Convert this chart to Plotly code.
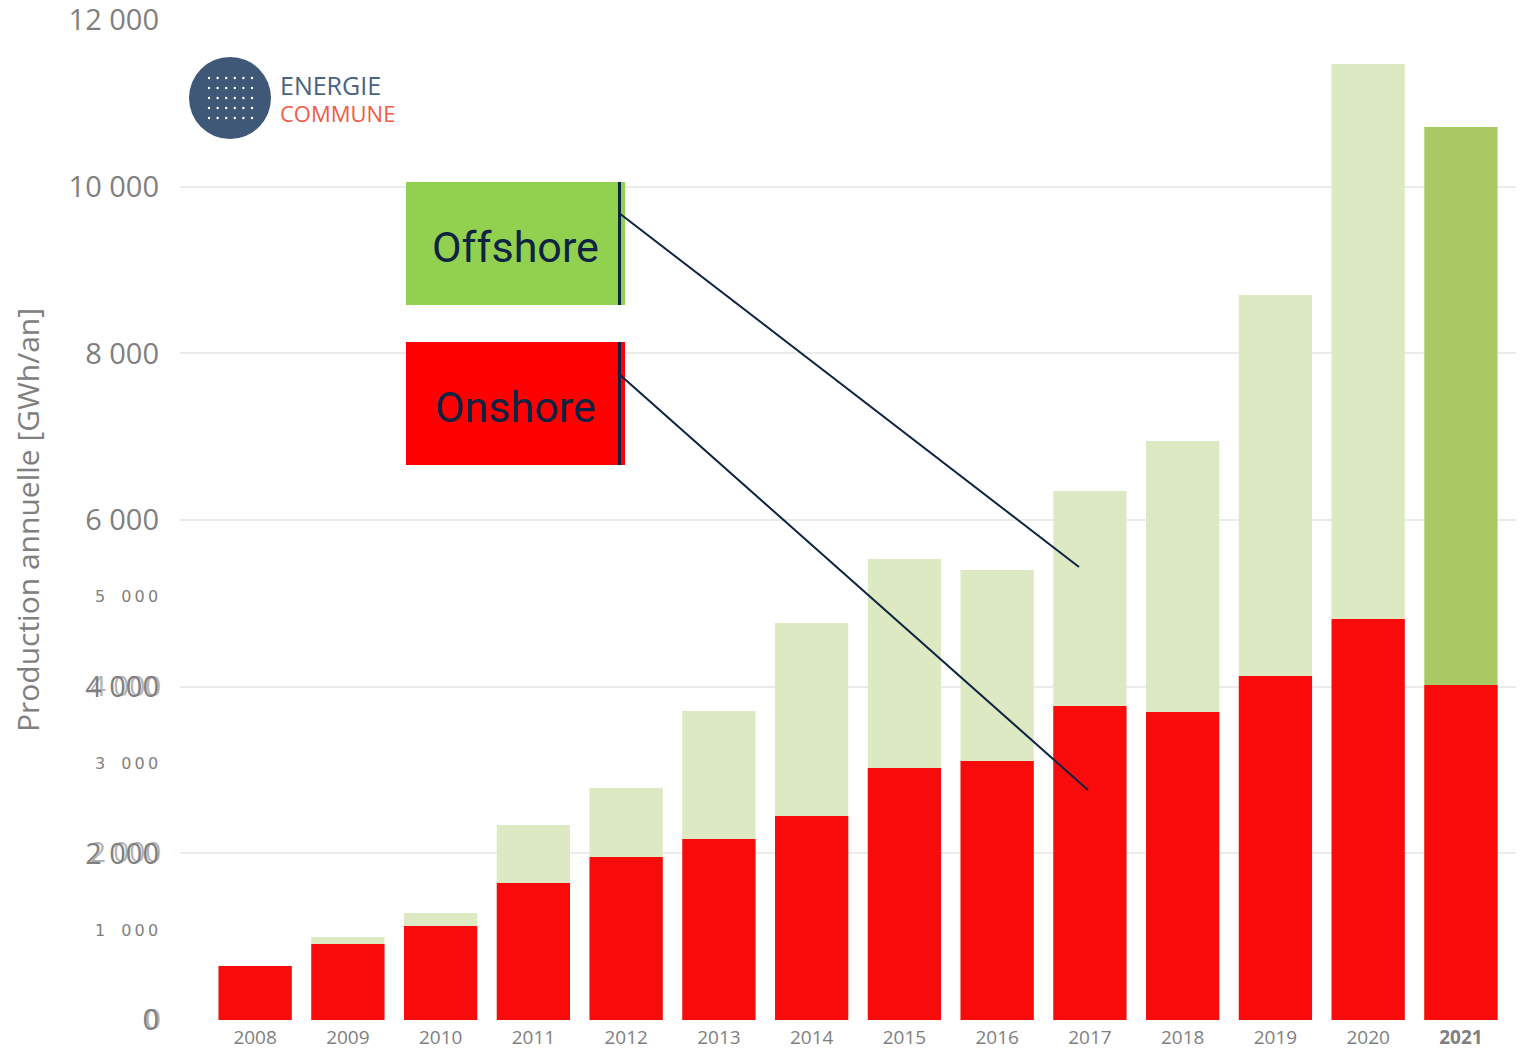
import plotly.graph_objects as go

# ---- data ----
years = ["2008", "2009", "2010", "2011", "2012", "2013", "2014",
         "2015", "2016", "2017", "2018", "2019", "2020", "2021"]
onshore = [648, 912, 1128, 1644, 1956, 2172, 2448, 3024, 3108, 3768, 3696, 4128, 4812, 4020]
offshore = [0, 84, 156, 696, 828, 1536, 2316, 2508, 2292, 2580, 3252, 4572, 6660, 6696]
y_ticks = [0, 2000, 4000, 6000, 8000, 10000, 12000]
y_tick_text = ["0", "2 000", "4 000", "6 000", "8 000", "10 000", "12 000"]
small_ticks = [1000, 3000, 5000]
small_tick_text = ["1 000", "3 000", "5 000"]

x_idx = list(range(len(years)))
totals = [a + b for a, b in zip(onshore, offshore)]
total_colors = ["#dce9c3"] * (len(years) - 1) + ["#a9c965"]
tick_text = [("<b>%s</b>" % y if y == "2021" else y) for y in years]

fig = go.Figure()
fig.add_trace(go.Bar(x=x_idx, y=totals, marker=dict(color=total_colors, line=dict(width=0)),
                     width=0.79, name="Total", showlegend=False, hoverinfo="skip"))
fig.add_trace(go.Bar(x=x_idx, y=onshore, marker=dict(color="#f90b0b", line=dict(width=0)),
                     width=0.79, name="Onshore", showlegend=False))

# page body has an 8px margin: compensate so the plot area lands at 180..1524 / 20..1020
fig.update_layout(
    width=1516, height=1043,
    margin=dict(l=172, r=0, t=12, b=31, autoexpand=False),
    barmode="overlay",
    plot_bgcolor="white", paper_bgcolor="white",
    font=dict(family="Open Sans", color="#808080"),
    xaxis=dict(range=[-0.81, 13.68], tickvals=x_idx, ticktext=tick_text,
               tickfont=dict(size=19, color="#808080"), showgrid=False,
               zeroline=False, showline=False, ticks="", automargin=False,
               ticklabelstandoff=4, ticklabeloverflow="allow"),
    yaxis=dict(range=[0, 12001], tickvals=y_ticks, ticktext=y_tick_text,
               tickfont=dict(size=29, color="#808080"), showgrid=True,
               gridcolor="#ebebeb", gridwidth=2, zeroline=False,
               ticklabelstandoff=20, automargin=False, ticklabeloverflow="allow"),
)

ann = []
# y-axis title
ann.append(dict(text="Production annuelle [GWh/an]", xref="paper", yref="paper",
                x=-0.1138, y=0.5, xanchor="center", yanchor="middle", textangle=-90,
                showarrow=False, font=dict(size=30, color="#808080", family="Open Sans")))
# small extra tick labels
for v, t in zip(small_ticks, small_tick_text):
    head, tail = t.split(" ")
    txt = head + "\u2003" + "\u2009".join(tail)
    ann.append(dict(text=txt, xref="paper", yref="y", x=-0.015, y=v + 80, xanchor="right",
                    yanchor="middle", showarrow=False,
                    font=dict(size=16, color="#808080", family="DejaVu Sans")))
# overlapping duplicates (as in the source image)
for v, t in zip([0, 2000, 4000], ["0", "2 000", "4 000"]):
    ann.append(dict(text=t, xref="paper", yref="y", x=-0.0125, y=v, xanchor="right",
                    yanchor="middle", yshift=2, showarrow=False,
                    font=dict(size=28, color="rgba(128,128,128,0.6)", family="Open Sans")))

def px_x(p):
    return (p - 180) / 1344.0

def px_y(p):
    return (1020 - p) / 1000.0

shapes = []
shapes.append(dict(type="rect", xref="paper", yref="paper", x0=px_x(406), x1=px_x(625),
                   y0=px_y(305), y1=px_y(182), fillcolor="#92d050", line=dict(width=0)))
shapes.append(dict(type="rect", xref="paper", yref="paper", x0=px_x(406), x1=px_x(625),
                   y0=px_y(465), y1=px_y(342), fillcolor="#ff0000", line=dict(width=0)))
for top, bot in [(182, 305), (342, 465)]:
    shapes.append(dict(type="line", xref="paper", yref="paper", x0=px_x(619.5), x1=px_x(619.5),
                       y0=px_y(top), y1=px_y(bot), line=dict(color="#0e2341", width=3)))
shapes.append(dict(type="line", xref="paper", yref="paper", x0=px_x(619), y0=px_y(213),
                   x1=px_x(1079), y1=px_y(567), line=dict(color="#0e2341", width=2)))
shapes.append(dict(type="line", xref="paper", yref="paper", x0=px_x(619), y0=px_y(374),
                   x1=px_x(1088), y1=px_y(790), line=dict(color="#0e2341", width=2)))
ann.append(dict(text="Offshore", xref="paper", yref="paper", x=px_x(515), y=px_y(247),
                xanchor="center", yanchor="middle",
                showarrow=False, font=dict(size=43, color="#0e2341", family="Roboto")))
ann.append(dict(text="Onshore", xref="paper", yref="paper", x=px_x(515), y=px_y(407),
                xanchor="center", yanchor="middle",
                showarrow=False, font=dict(size=43, color="#0e2341", family="Roboto")))

# logo
shapes.append(dict(type="circle", xref="paper", yref="paper", x0=px_x(189), x1=px_x(271),
                   y0=px_y(139), y1=px_y(57), fillcolor="#3f5878", line=dict(width=0)))
for i in range(6):
    for j in range(5):
        cx = 209 + i * 8.6
        cy = 78 + j * 10
        shapes.append(dict(type="circle", xref="paper", yref="paper",
                           x0=px_x(cx - 1.2), x1=px_x(cx + 1.2),
                           y0=px_y(cy + 1.2), y1=px_y(cy - 1.2),
                           fillcolor="white", line=dict(width=0)))
ann.append(dict(text="ENERGIE", xref="paper", yref="paper", x=px_x(278), y=px_y(85),
                xanchor="left", yanchor="middle", showarrow=False,
                font=dict(size=25, color="#4a6382", family="Open Sans")))
ann.append(dict(text="COMMUNE", xref="paper", yref="paper", x=px_x(278), y=px_y(113),
                xanchor="left", yanchor="middle", showarrow=False,
                font=dict(size=22, color="#f25a45", family="Open Sans")))

fig.update_layout(annotations=ann, shapes=shapes)
fig.write_html("out.html")
